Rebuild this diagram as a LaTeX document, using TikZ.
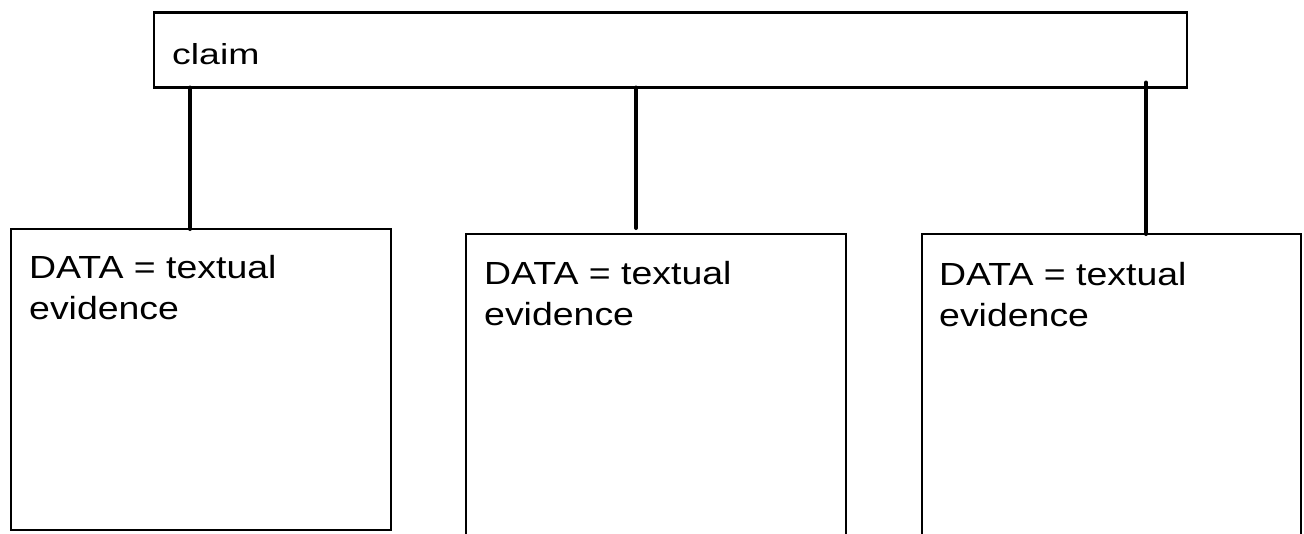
\documentclass[tikz,border=0pt]{standalone}
\usepackage{fontspec}
\setmainfont{Liberation Sans}
\newfontfamily\claimfont[FakeStretch=1.29]{Liberation Sans}
\newfontfamily\datafont[FakeStretch=1.17]{Liberation Sans}
\usetikzlibrary{positioning}
\usetikzlibrary{calc}

\begin{document}
\begin{tikzpicture}[
            x = 1pt, y = -1pt, % pixel units, y runs down
            line cap = round
        ]

        \tikzstyle{claimbox}=[
            draw,
            line width = 2.8pt,
            anchor = north west,
            outer sep = 0pt,
            minimum width = 1033pt,
            minimum height = 75pt
        ]
        \tikzstyle{databox}=[
            draw,
            line width = 2.8pt,
            anchor = north west,
            outer sep = 0pt,
            minimum width = 380pt,
            minimum height = 301pt
        ]
        \tikzstyle{boxtext}=[
            anchor = north west,
            align = left,
            inner sep = 0pt,
            font = \datafont\fontsize{32}{41}\selectfont
        ]
        \tikzstyle{link}=[line width = 4pt]

        \useasboundingbox (0,0) rectangle (1304,533);
        \clip (0,0) rectangle (1304,533);

	% claim level
        \node[claimbox] (claim) at (154,12.5) {};
        \node[boxtext, font = \claimfont\fontsize{29}{35}\selectfont] (claimtxt) [below right = 30.5pt and 18pt of claim.north west] {claim};

	% data level
        \node[databox] (d1) at (11,229) {};
        \node[databox, minimum height = 310pt] (d2) at (466,234) {};
        \node[databox, minimum height = 310pt, minimum width = 379pt] (d3) at (922,234) {};

        \node[boxtext] (t1) [below right = 26pt and 18pt of d1.north west] {DATA = textual\\evidence};
        \node[boxtext] (t2) [below right = 27.5pt and 18pt of d2.north west] {DATA = textual\\evidence};
        \node[boxtext] (t3) [below right = 28pt and 17pt of d3.north west] {DATA = textual\\evidence};

        % connectors
        \draw[link] ($(d1.north west)+(179pt,0)$) -- ($(d1.north west |- claim.south)+(179pt,0)$);
        \draw[link] ($(d2.north west)+(170pt,6pt)$) -- ($(d2.north west |- claim.south)+(170pt,0)$);
        \draw[link] ($(d3.north west)+(224pt,0)$) -- ($(d3.north west |- claim.south)+(224pt,5pt)$);

\end{tikzpicture}
\end{document}
